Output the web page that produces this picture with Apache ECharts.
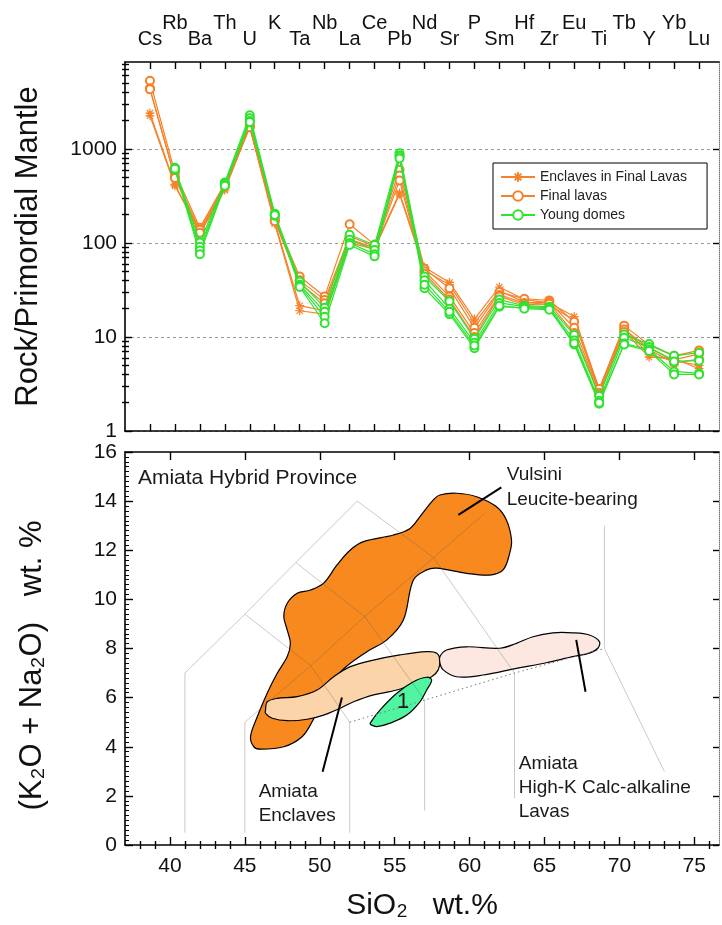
<!DOCTYPE html>
<html>
<head>
<meta charset="utf-8">
<script src="https://cdn.jsdelivr.net/npm/echarts@6/dist/echarts.min.js"></script>
<style>
html,body{margin:0;padding:0;background:#fff}
#chart{width:722px;height:925px}
</style>
</head>
<body>
<div id="chart"></div>
<script>
// ---- Spider diagram: trace elements normalised to primordial mantle ----
const ELEMENTS = ['Cs','Rb','Ba','Th','U','K','Ta','Nb','La','Ce','Pb','Nd','Sr','P','Sm','Hf','Zr','Eu','Ti','Tb','Y','Yb','Lu'];

// Enclaves in Final Lavas (one row per sample)
const ENCLAVE_SAMPLES = [
  [2400, 420, 125, 365, 1750, 165, 21.5, 19, 105, 90, 340, 55, 38, 15.5, 34, 25, 23, 16.5, 2.8, 12.5, 6.5, 5.6, 5.0],
  [2250, 405, 132, 380, 1700, 160, 19, 17.5, 100, 86, 330, 51, 36, 14, 31, 23.5, 22, 15, 2.6, 11.5, 6.1, 5.9, 4.6]
];
// Final lavas
const FINAL_SAMPLES = [
  [5300, 560, 145, 430, 1800, 182, 44, 27, 158, 96, 600, 53, 33, 12.5, 30, 25.5, 24.5, 14.5, 2.8, 13.2, 8.2, 6.3, 7.2],
  [4400, 500, 138, 415, 1730, 175, 40, 24.8, 118, 92, 520, 50, 27, 11, 28, 23, 23.5, 12.5, 2.55, 12, 7.6, 5.7, 6.6],
  [4300, 490, 128, 405, 1700, 170, 37, 22.8, 110, 88, 460, 47, 25, 10, 27, 22, 22.5, 11, 2.45, 11.3, 7.3, 5.3, 5.8]
];
// Young domes (no Cs determination)
const YOUNG_SAMPLES = [
  [null, 630, 101, 440, 2280, 205, 39, 20.5, 122, 95, 900, 44, 24, 9.6, 25, 21.5, 21, 10.5, 2.35, 10.6, 8.4, 6.3, 6.8],
  [null, 610, 91, 425, 2120, 200, 36, 18.5, 108, 84, 850, 40, 20, 8.7, 23, 21, 20.5, 9.2, 2.1, 9.8, 7.8, 5.5, 5.6],
  [null, 600, 83, 415, 1980, 195, 35, 16.4, 100, 76, 830, 33, 17.5, 7.6, 21, 20.5, 20, 8.3, 1.95, 8.5, 7.4, 4.3, 4.1],
  [null, 615, 76, 405, 1930, 198, 34, 14, 95, 72, 790, 36, 18.5, 8.1, 21.5, 20, 19.5, 8.6, 2.0, 8.3, 7.1, 4.0, 4.0]
];
const MANTLE_TICKS = [1, 10, 100, 1000];

// ---- TAS diagram (SiO2 vs total alkali) ----
const SIO2_TICKS = [40, 45, 50, 55, 60, 65, 70, 75];
const SIO2_MINOR = [38, 39, 41, 42, 43, 44, 46, 47, 48, 49, 51, 52, 53, 54, 56, 57, 58, 59, 61, 62, 63, 64, 66, 67, 68, 69, 71, 72, 73, 74, 76];

// classification field boundaries
const TAS_LINES = [
  [[41, 0.5], [41, 7], [45, 9.4], [48.4, 11.5], [52.5, 14], [57.6, 11.7], [63, 7], [63, 1.9]],
  [[45, 0.5], [45, 5], [49.4, 7.3], [53, 9.3], [57.6, 11.7], [61, 13.5]],
  [[52, 0.5], [52, 5], [49.4, 7.3]],
  [[57, 1.4], [57, 5.9], [53, 9.3], [48.4, 11.5]],
  [[45, 9.4], [49.4, 7.3]],
  [[69, 13], [69, 8], [73, 3]]
];
const TAS_DOTTED = [[52, 5], [57, 5.9], [63, 7], [69, 8]];

// compositional fields
const VULSINI_FIELD = [
  [56.25, 10.79], [57.14, 11.20], [57.81, 11.27], [59.80, 11.06], [61.35, 10.99], [62.24, 11.20],
  [62.68, 11.88], [62.80, 12.42], [62.46, 13.23], [61.80, 13.77], [60.47, 14.18], [59.14, 14.32],
  [58.02, 14.25], [57.58, 14.05], [56.69, 13.37], [56.03, 12.89], [54.92, 12.62], [52.92, 12.35],
  [52.04, 12.01], [51.15, 11.40], [50.26, 10.66], [49.38, 10.38], [48.49, 10.25], [47.83, 9.84],
  [47.60, 9.30], [47.83, 8.75], [48.04, 8.21], [47.83, 7.67], [47.16, 6.99], [46.49, 6.18],
  [45.83, 5.22], [45.38, 4.41], [45.60, 4.00], [46.05, 3.90], [47.60, 4.00], [48.82, 4.41],
  [49.49, 5.02], [50.37, 6.11], [51.37, 7.04], [53.15, 7.87], [54.48, 8.35], [55.58, 9.16]
];
const ENCLAVES_FIELD = [
  [46.38, 5.50], [46.49, 5.83], [47.16, 5.97], [48.49, 6.04], [49.82, 6.31], [50.93, 6.85],
  [52.04, 7.26], [53.59, 7.53], [55.36, 7.74], [57.14, 7.87], [57.81, 7.81], [58.02, 7.53],
  [57.91, 7.13], [57.47, 6.85], [56.69, 6.65], [55.14, 6.31], [53.59, 6.11], [52.26, 5.83],
  [51.37, 5.57], [50.26, 5.29], [49.16, 5.12], [47.83, 5.06], [46.83, 5.16], [46.38, 5.36]
];
const HIGHK_FIELD = [
  [58.02, 7.67], [58.47, 7.94], [59.80, 8.07], [62.02, 8.01], [63.13, 8.21], [64.23, 8.48],
  [65.56, 8.64], [66.89, 8.64], [68.00, 8.55], [68.67, 8.28], [68.56, 8.01], [68.00, 7.81],
  [66.89, 7.67], [65.12, 7.42], [63.13, 7.19], [60.90, 6.92], [59.13, 6.85], [58.24, 7.13], [58.02, 7.41]
];
const FIELD_1 = [
  [53.37, 4.96], [54.03, 5.50], [55.14, 6.18], [56.25, 6.65], [57.14, 6.83], [57.47, 6.72],
  [57.14, 6.31], [56.69, 5.83], [55.81, 5.29], [54.70, 4.96], [53.81, 4.82], [53.43, 4.89]
];

// leader lines from labels to fields
const LEADERS = [
  [[59.25, 13.44], [62.12, 14.56]],
  [[51.48, 6.01], [50.19, 2.98]],
  [[67.12, 8.35], [67.74, 6.24]]
];

const FONT = '"Liberation Sans", Arial, sans-serif';
const ORANGE = '#f5822a';
const GREEN = '#2fe32f';

const ASTERISK = 'path://M5,0L5,10M0,5L10,5M1.5,1.5L8.5,8.5M8.5,1.5L1.5,8.5';

function spiderSeries(name, rows, color, symbol, size) {
  return rows.map(row => ({
    name, type: 'line', xAxisIndex: 0, yAxisIndex: 0,
    data: row.map((v, i) => [i + 1, v]).filter(p => p[1] != null),
    symbol, symbolSize: size, showAllSymbol: true,
    lineStyle: { color, width: 1.2 },
    itemStyle: { color, borderColor: color, borderWidth: 1.2 },
    emphasis: { disabled: true }, z: name === 'Young domes' ? 4 : 3
  }));
}

function polygonSeries(name, pts, fill) {
  return {
    type: 'custom', name, xAxisIndex: 2, yAxisIndex: 4, z: 2, silent: true,
    data: pts, encode: { x: 0, y: 1 },
    renderItem(params, api) {
      if (params.dataIndex !== 0) return null;
      return {
        type: 'polygon',
        shape: { points: pts.map(p => api.coord(p)), smooth: 0.35 },
        style: { fill, stroke: '#000', lineWidth: 1.2 }
      };
    }
  };
}

function pathSeries(pts, style, z) {
  return {
    type: 'line', xAxisIndex: 2, yAxisIndex: 4, data: pts, symbol: 'none',
    lineStyle: style, silent: true, z, emphasis: { disabled: true }
  };
}

function textSeries(pos, text, size, lineHeight, align) {
  return {
    type: 'custom', xAxisIndex: 2, yAxisIndex: 4, z: 6, silent: true,
    data: [pos], encode: { x: 0, y: 1 },
    renderItem(params, api) {
      const p = api.coord(pos);
      return {
        type: 'text', x: p[0], y: p[1],
        style: { text, fontSize: size, fontFamily: FONT, fill: '#1a1a1a',
                 lineHeight, align, verticalAlign: 'middle' }
      };
    }
  };
}

const isDecade = v => Math.abs(Math.log10(v) - Math.round(Math.log10(v))) < 1e-6;
const logMinor = [];
[1, 10, 100, 1000].forEach(d => { for (let k = 2; k <= 9; k++) if (k * d < 8400) logMinor.push(k * d); });

const blackLine = { show: true, onZero: false, lineStyle: { color: '#000', width: 1.6 } };
const dottedLine = { show: true, onZero: false, lineStyle: { color: '#777', width: 1, type: 'dotted' } };
const tick = (len, vals) => ({ show: true, inside: true, length: len, customValues: vals, lineStyle: { color: '#000', width: 1.4 } });

const chart = echarts.init(document.getElementById('chart'));
chart.setOption({
  animation: false,
  textStyle: { fontFamily: FONT },
  grid: [
    { left: 125, top: 62, width: 594, height: 369 },
    { left: 125, top: 452, width: 594, height: 393 }
  ],
  legend: {
    data: ['Enclaves in Final Lavas', 'Final lavas', 'Young domes'],
    orient: 'vertical', left: 493, top: 163,
    borderColor: '#000', borderWidth: 1, padding: [7, 20, 7, 7],
    itemGap: 5, itemWidth: 34, itemHeight: 12, selectedMode: false,
    textStyle: { fontSize: 14, color: '#222', fontFamily: FONT }
  },
  xAxis: [
    { gridIndex: 0, type: 'value', position: 'bottom', min: 0, max: 23.8,
      axisLine: blackLine, axisTick: tick(7, ELEMENTS.map((e, i) => i + 1)),
      axisLabel: { show: false }, splitLine: { show: false } },
    { gridIndex: 0, type: 'value', position: 'top', min: 0, max: 23.8,
      axisLine: blackLine, axisTick: tick(7, ELEMENTS.map((e, i) => i + 1)),
      axisLabel: {
        customValues: ELEMENTS.map((e, i) => i + 1), margin: 13,
        formatter: v => { const i = Math.round(v) - 1; return (i % 2 ? '{hi|' : '{lo|') + ELEMENTS[i] + '}'; },
        rich: {
          lo: { fontSize: 20, color: '#111', fontFamily: FONT },
          hi: { fontSize: 20, color: '#111', fontFamily: FONT, padding: [0, 0, 16, 0] }
        }
      },
      splitLine: { show: false } },
    { gridIndex: 1, type: 'value', position: 'bottom', min: 37, max: 76.65,
      axisLine: blackLine, axisTick: tick(8, SIO2_TICKS),
      axisLabel: { customValues: SIO2_TICKS, fontSize: 21, color: '#111', margin: 11 },
      splitLine: { show: false },
      name: 'SiO₂   wt.%', nameLocation: 'middle', nameGap: 46,
      nameTextStyle: { fontSize: 30, color: '#111', fontFamily: FONT } },
    { gridIndex: 1, type: 'value', position: 'bottom', min: 37, max: 76.65,
      axisLine: { show: false }, axisTick: tick(4, SIO2_MINOR),
      axisLabel: { show: false }, splitLine: { show: false } },
    { gridIndex: 1, type: 'value', position: 'top', min: 37, max: 76.65,
      axisLine: blackLine, axisTick: tick(8, SIO2_TICKS),
      axisLabel: { show: false }, splitLine: { show: false } },
    { gridIndex: 1, type: 'value', position: 'top', min: 37, max: 76.65,
      axisLine: { show: false }, axisTick: tick(4, SIO2_MINOR),
      axisLabel: { show: false }, splitLine: { show: false } }
  ],
  yAxis: [
    { gridIndex: 0, type: 'log', logBase: 10, position: 'left', min: 1, max: 8400,
      axisLine: blackLine,
      axisTick: tick(7, MANTLE_TICKS),
      axisLabel: { customValues: MANTLE_TICKS, fontSize: 21, color: '#111', margin: 8,
                   formatter: v => isDecade(v) ? String(Math.round(v)) : '' },
      splitLine: { show: true, lineStyle: { color: '#999', width: 1, type: [3, 3] } },
      name: 'Rock/Primordial Mantle', nameLocation: 'middle', nameGap: 81,
      nameTextStyle: { fontSize: 31, color: '#111', fontFamily: FONT } },
    { gridIndex: 0, type: 'log', logBase: 10, position: 'left', min: 1, max: 8400,
      axisLine: { show: false }, axisTick: tick(4, logMinor),
      axisLabel: { show: false }, splitLine: { show: false } },
    { gridIndex: 0, type: 'log', logBase: 10, position: 'right', min: 1, max: 8400,
      axisLine: dottedLine, axisTick: tick(6, MANTLE_TICKS),
      axisLabel: { show: false }, splitLine: { show: false } },
    { gridIndex: 0, type: 'log', logBase: 10, position: 'right', min: 1, max: 8400,
      axisLine: { show: false }, axisTick: tick(3, logMinor),
      axisLabel: { show: false }, splitLine: { show: false } },
    { gridIndex: 1, type: 'value', position: 'left', min: 0, max: 16, interval: 2,
      axisLine: blackLine,
      axisTick: { show: true, inside: true, length: 8, lineStyle: { color: '#000', width: 1.4 } },
      minorTick: { show: true, splitNumber: 10, length: 4, lineStyle: { color: '#000', width: 1 } },
      axisLabel: { fontSize: 21, color: '#111', margin: 8 },
      splitLine: { show: false },
      name: '(K₂O + Na₂O)   wt. %', nameLocation: 'middle', nameGap: 77,
      nameTextStyle: { fontSize: 31, color: '#111', fontFamily: FONT, padding: [0, 34, 0, 0] } },
    { gridIndex: 1, type: 'value', position: 'right', min: 0, max: 16, interval: 2,
      axisLine: dottedLine,
      axisTick: { show: true, inside: true, length: 6, lineStyle: { color: '#000', width: 1.4 } },
      axisLabel: { show: false }, splitLine: { show: false } }
  ],
  series: [
    ...spiderSeries('Enclaves in Final Lavas', ENCLAVE_SAMPLES, ORANGE, ASTERISK, 9),
    ...spiderSeries('Final lavas', FINAL_SAMPLES, ORANGE, 'emptyCircle', 8),
    ...spiderSeries('Young domes', YOUNG_SAMPLES, GREEN, 'emptyCircle', 8),

    polygonSeries('Vulsini', VULSINI_FIELD, '#f7891f'),
    polygonSeries('Amiata Enclaves', ENCLAVES_FIELD, '#fcd4a9'),
    polygonSeries('Amiata High-K', HIGHK_FIELD, '#fce7e1'),
    polygonSeries('Field 1', FIELD_1, '#4ff5a0'),

    ...TAS_LINES.map(l => pathSeries(l, { color: 'rgba(90,90,90,0.32)', width: 1 }, 3)),
    pathSeries(TAS_DOTTED, { color: '#777', width: 1, type: [1.5, 3] }, 3),
    ...LEADERS.map(l => pathSeries(l, { color: '#000', width: 2 }, 5)),

    textSeries([37.86, 14.94], 'Amiata Hybrid Province', 21, 24, 'left'),
    textSeries([62.48, 14.56], 'Vulsini\nLeucite-bearing', 19, 25, 'left'),
    textSeries([45.92, 1.69], 'Amiata\nEnclaves', 19, 24, 'left'),
    textSeries([63.28, 2.34], 'Amiata\nHigh-K Calc-alkaline\nLavas', 19, 24, 'left'),
    textSeries([55.56, 5.84], '1', 22, 24, 'center')
  ]
});
</script>
</body>
</html>
